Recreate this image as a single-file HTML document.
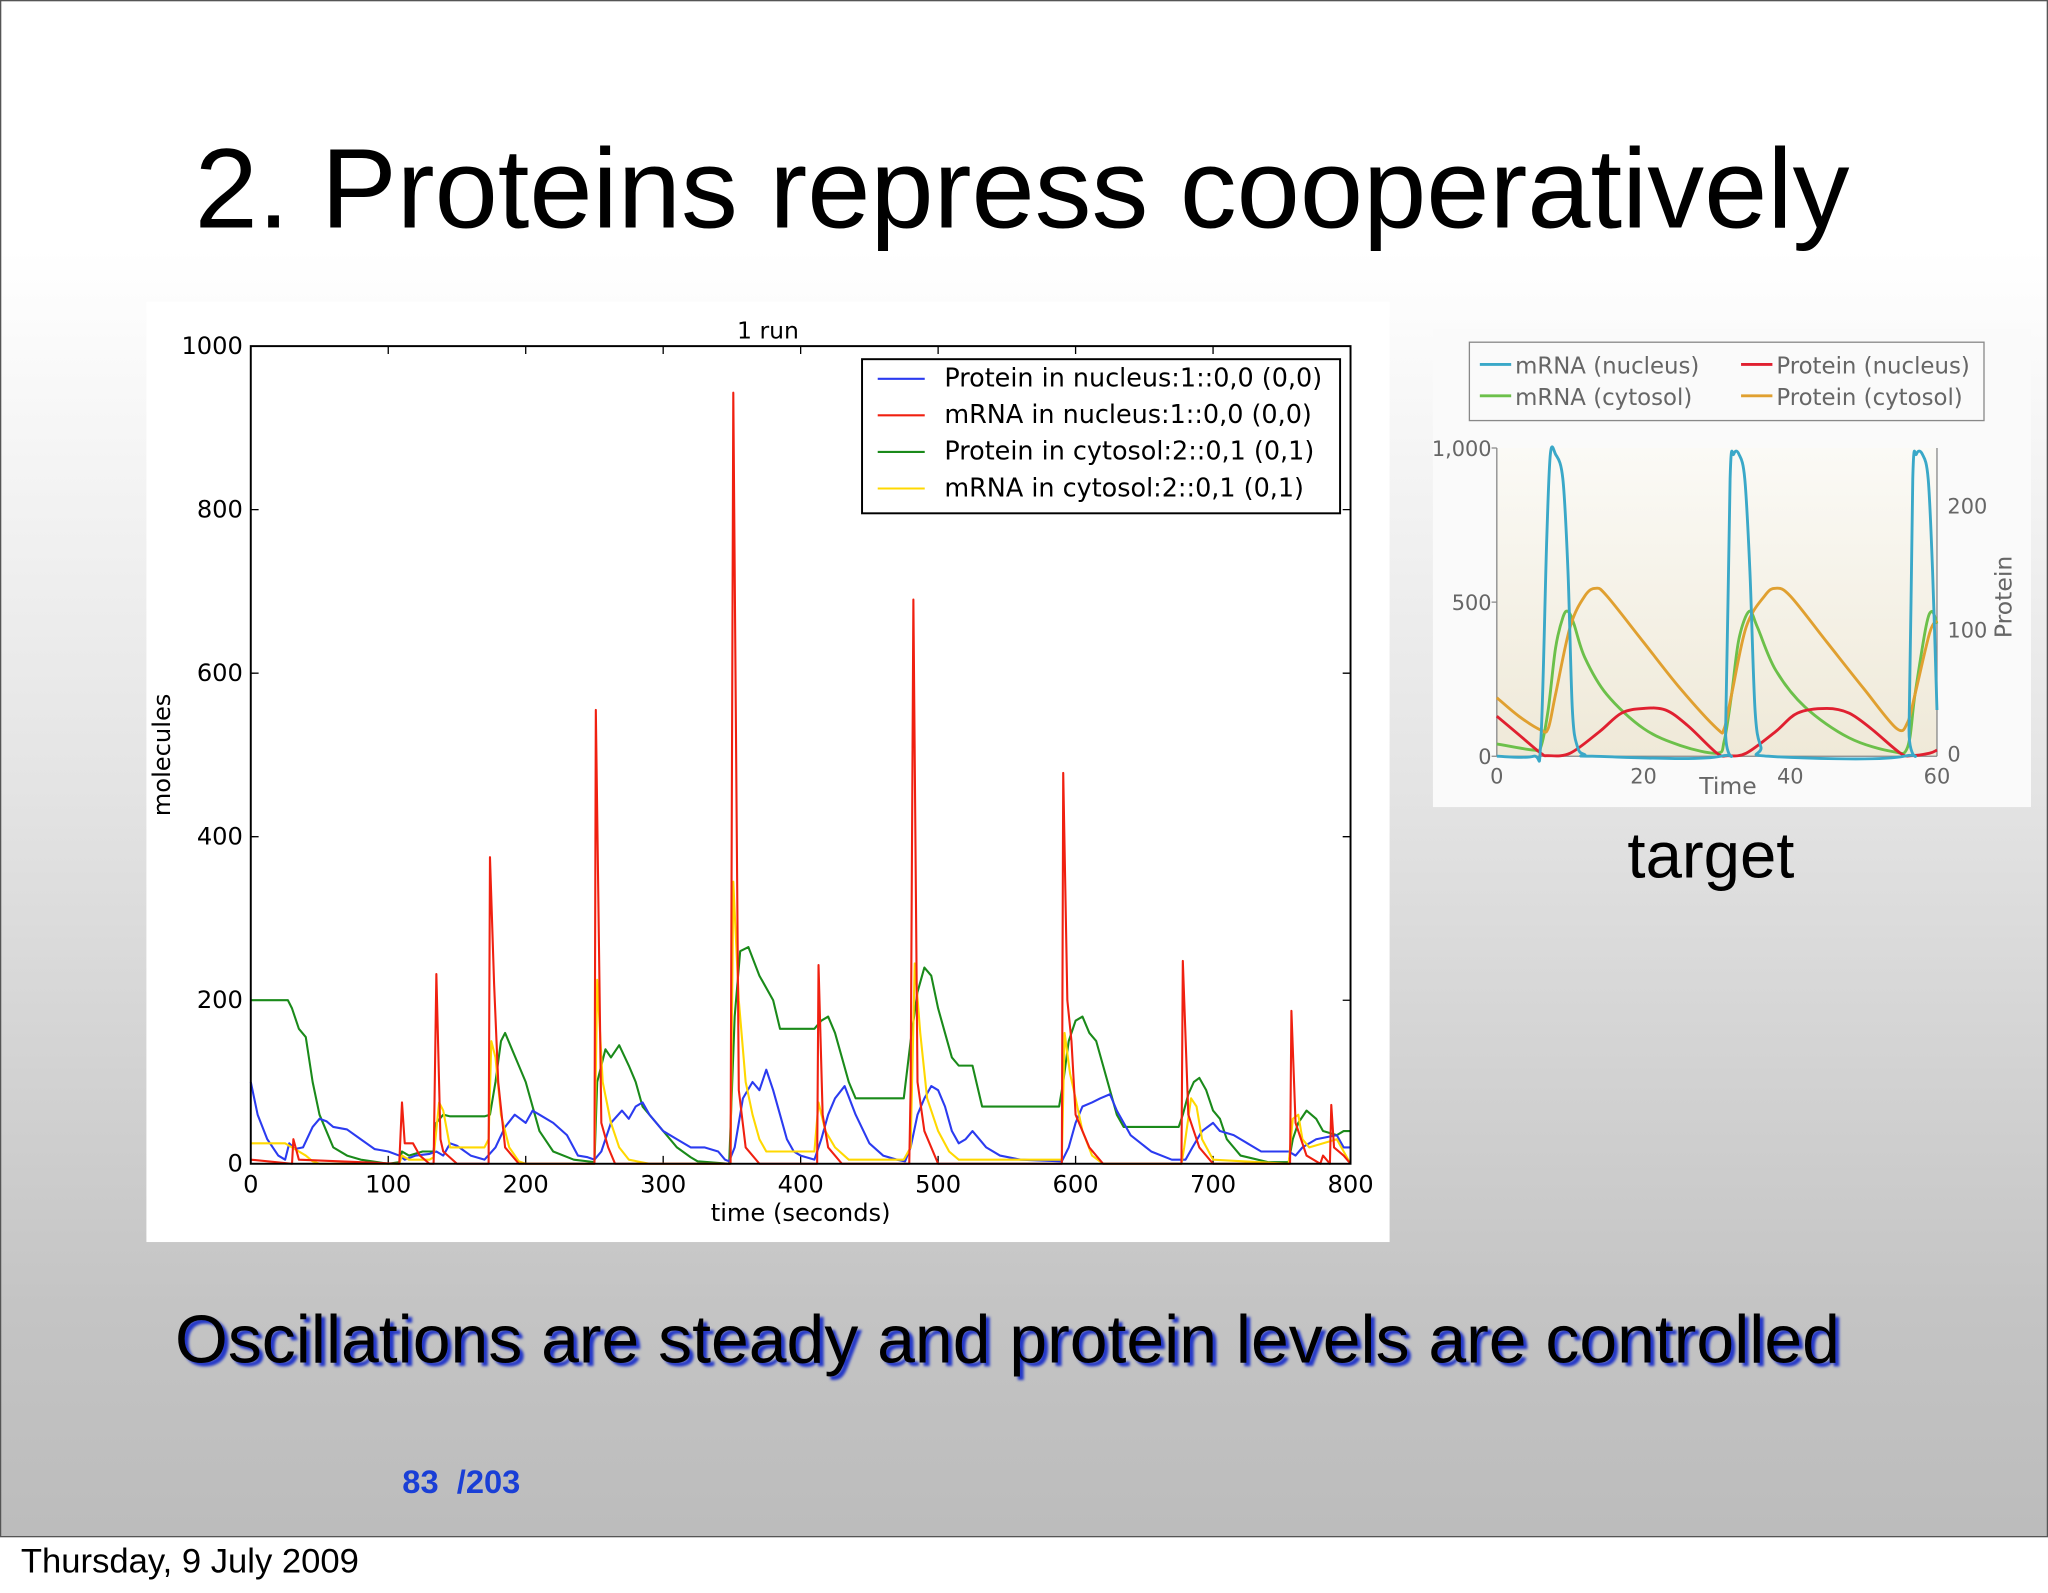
<!DOCTYPE html>
<html><head><meta charset="utf-8"><style>
html,body{margin:0;padding:0;width:2048px;height:1593px;overflow:hidden;background:#fff}
#s{position:absolute;left:0;top:0;width:1568px;height:1220px;transform:scale(1.306122);transform-origin:0 0;font-family:"Liberation Sans",sans-serif}
#slide{position:absolute;left:0;top:0;width:1566px;height:1175px;border:1px solid #555;background:linear-gradient(#fff 0,#fff 190px,#e4e4e4 600px,#c4c4c4 1000px,#bcbcbc 1175px)}
.t{position:absolute;white-space:nowrap}
</style></head><body>
<div id="s">
<div id="slide"></div>
<div class="t" style="left:149px;top:95px;font-size:87px;color:#000">2. Proteins repress cooperatively</div>
<svg id="main" style="position:absolute;left:112px;top:231px" width="952" height="720"></svg>
<svg id="tgt" style="position:absolute;left:1097px;top:252px" width="458" height="366"></svg>
<div class="t" style="left:1246px;top:626px;font-size:50px">target</div>
<div class="t" style="left:134px;top:996px;font-size:52px;color:#000;text-shadow:3px 3px 2px #2438c8">Oscillations are steady and protein levels are controlled</div>
<div class="t" style="left:308px;top:1121px;font-size:25px;font-weight:bold;color:#1a3fd6">83 &nbsp;/203</div>
<div class="t" style="left:16px;top:1180px;font-size:26.5px;color:#000">Thursday, 9 July 2009</div>
</div>
<script>
const NS="http://www.w3.org/2000/svg";
function mk(p,tag,a){const e=document.createElementNS(NS,tag);for(const k in a)e.setAttribute(k,a[k]);p.appendChild(e);return e;}
// ---- main chart data ----
const xTicks=[0,100,200,300,400,500,600,700,800];
const yTicks=[0,200,400,600,800,1000];
const seriesNames=["Protein in nucleus:1::0,0 (0,0)","mRNA in nucleus:1::0,0 (0,0)","Protein in cytosol:2::0,1 (0,1)","mRNA in cytosol:2::0,1 (0,1)"];
const seriesColors=["#2b3bf0","#f02010","#1a8a1a","#ffd800"];
const proteinNucleus=[[0,100],[5,60],[12,30],[20,10],[25,5],[28,25],[32,18],[38,20],[45,45],[50,55],[55,52],[60,45],[70,42],[80,30],[90,18],[100,15],[108,10],[112,5],[120,10],[130,12],[135,15],[140,10],[145,25],[150,22],[160,10],[170,5],[178,20],[185,45],[192,60],[200,50],[205,65],[210,60],[220,50],[230,35],[238,10],[245,8],[250,5],[255,15],[262,50],[270,65],[275,55],[280,70],[285,75],[290,60],[300,40],[310,30],[320,20],[330,20],[340,15],[345,5],[348,3],[352,20],[358,80],[365,100],[370,90],[375,115],[380,90],[385,60],[390,30],[395,15],[400,10],[410,5],[415,30],[420,60],[425,80],[432,95],[440,60],[450,25],[460,10],[470,5],[476,3],[480,20],[485,60],[490,80],[495,95],[500,90],[505,70],[510,40],[515,25],[520,30],[525,40],[530,30],[535,20],[545,10],[560,5],[590,3],[595,20],[600,50],[605,70],[612,75],[618,80],[625,85],[630,65],[640,35],[655,15],[670,5],[680,5],[685,20],[692,40],[700,50],[705,40],[715,35],[725,25],[735,15],[745,15],[755,15],[760,10],[765,20],[775,30],[790,35],[795,20],[800,20]];
const mrnaNucleus=[[0,5],[30,0],[31,30],[35,5],[108,0],[110,75],[112,25],[118,25],[123,10],[130,0],[133,0],[135,232],[138,30],[140,15],[150,0],[173,0],[174,375],[177,220],[180,100],[185,20],[195,0],[250,0],[251,555],[255,50],[260,20],[265,0],[349,0],[351,943],[355,90],[360,20],[370,0],[412,0],[413,243],[416,60],[420,20],[430,0],[479,0],[480,90],[482,690],[485,100],[490,40],[500,0],[590,0],[591,478],[594,200],[597,150],[600,60],[610,20],[620,0],[677,0],[678,248],[682,60],[690,20],[700,0],[756,0],[757,187],[760,50],[768,10],[778,0],[780,10],[785,0],[786,72],[788,20],[795,10],[800,0]];
const proteinCytosol=[[0,200],[27,200],[30,190],[35,165],[40,155],[45,100],[50,60],[55,40],[60,20],[70,10],[80,5],[100,0],[108,2],[110,15],[115,10],[125,15],[133,15],[135,50],[140,60],[145,58],[170,58],[174,60],[178,100],[182,150],[185,160],[190,140],[195,120],[200,100],[210,40],[220,15],[235,5],[250,2],[252,100],[258,140],[262,130],[268,145],[275,120],[280,100],[285,70],[295,50],[310,20],[320,8],[325,3],[348,0],[352,180],[356,260],[362,265],[370,230],[380,200],[385,165],[410,165],[415,175],[420,180],[425,160],[430,130],[435,100],[440,80],[475,80],[480,150],[485,210],[490,240],[495,230],[500,190],[505,160],[510,130],[515,120],[525,120],[532,70],[588,70],[591,100],[595,150],[600,175],[605,180],[610,160],[615,150],[620,120],[625,90],[630,60],[635,45],[675,45],[678,60],[682,85],[686,100],[690,105],[695,90],[700,65],[705,55],[710,30],[720,10],[740,2],[755,2],[758,30],[762,50],[768,65],[775,55],[780,40],[790,35],[795,40],[800,40]];
const mrnaCytosol=[[0,25],[25,25],[30,20],[40,10],[45,3],[50,0],[108,0],[110,10],[115,5],[130,5],[133,8],[137,75],[140,65],[145,20],[150,20],[170,20],[173,30],[175,150],[178,130],[182,60],[188,20],[195,3],[200,0],[250,0],[252,225],[256,100],[262,50],[268,20],[275,5],[290,0],[349,0],[351,345],[355,200],[360,100],[365,60],[370,30],[375,15],[410,15],[413,75],[418,40],[425,20],[435,5],[475,5],[480,20],[483,245],[487,160],[492,80],[500,40],[508,15],[515,5],[590,5],[592,160],[596,110],[600,80],[605,40],[612,10],[620,0],[677,0],[679,20],[684,80],[688,70],[692,30],[700,5],[755,0],[758,55],[762,60],[765,30],[770,20],[790,30],[795,15],[800,0]];
// ---- target chart data ----
const tXTicks=[0,20,40,60];
const tYTicks=[0,500,1000];
const tRTicks=[0,100,200];
const tNames=["mRNA (nucleus)","mRNA (cytosol)","Protein (nucleus)","Protein (cytosol)"];
const tColors=["#3aa8c8","#6cc04a","#e02030","#e0a030"];
const tMrnaNuc=[[0,0],[5,0],[6,50],[6.8,700],[7.3,980],[8,980],[9,900],[9.7,600],[10.3,150],[11,30],[12,5],[13,0],[30.5,0],[31.2,100],[31.8,900],[32.3,980],[33,980],[33.8,900],[34.5,600],[35.2,150],[36,30],[37,0],[55.5,0],[56.2,100],[56.7,900],[57.2,980],[58,980],[58.8,900],[59.4,600],[60,150]];
const tMrnaCyt=[[0,40],[5,20],[6,30],[7,150],[8,350],[9,450],[9.7,470],[10.5,430],[12,320],[15,200],[20,90],[25,35],[30,10],[31,50],[32,200],[33,380],[34.4,470],[35.5,420],[38,280],[42,160],[48,60],[54,15],[56,30],[57,200],[58.5,420],[59.3,470],[60,430]];
const tProtNuc=[[0,130],[3,70],[6,10],[7,2],[10,10],[14,80],[17,140],[20,155],[23,150],[26,100],[30,10],[31.5,2],[34,10],[38,80],[41,140],[45,155],[48,140],[51,90],[55,10],[56.5,2],[59,10],[60,20]];
const tProtCyt=[[0,190],[3,130],[6,85],[7,90],[8,200],[10,420],[12,520],[13.5,545],[15,520],[20,370],[25,220],[30,90],[31,90],[32,200],[34,420],[36.5,520],[38,545],[40,520],[45,370],[50,220],[54.5,90],[56,110],[57,200],[59,400],[60,440]];

// main chart
(function(){
const svg=document.getElementById('main');
mk(svg,'rect',{x:0,y:0,width:952,height:720,fill:'#fff'});
const L=80,R=922,T=34,B=660;
const sx=v=>L+(R-L)*v/800, sy=v=>B-(B-T)*v/1000;
const font='font-family:"DejaVu Sans",sans-serif';
let t=mk(svg,'text',{x:476,y:28,'text-anchor':'middle','font-size':18,style:font});t.textContent='1 run';

xTicks.forEach(v=>{mk(svg,'line',{x1:sx(v),x2:sx(v),y1:B,y2:B-6,stroke:'#000'});mk(svg,'line',{x1:sx(v),x2:sx(v),y1:T,y2:T+6,stroke:'#000'});
 const e=mk(svg,'text',{x:sx(v),y:B+22,'text-anchor':'middle','font-size':18.5,style:font});e.textContent=v;
 });
yTicks.forEach(v=>{mk(svg,'line',{x1:L,x2:L+6,y1:sy(v),y2:sy(v),stroke:'#000'});mk(svg,'line',{x1:R,x2:R-6,y1:sy(v),y2:sy(v),stroke:'#000'});
 const e=mk(svg,'text',{x:L-6,y:sy(v)+6,'text-anchor':'end','font-size':18.5,style:font});e.textContent=v;
 });
const all=[proteinNucleus,mrnaNucleus,proteinCytosol,mrnaCytosol];
const order=[2,0,3,1];
order.forEach(i=>{const p=mk(svg,'polyline',{points:all[i].map(d=>sx(d[0])+','+sy(d[1])).join(' '),fill:'none',stroke:seriesColors[i],'stroke-width':1.6,'stroke-linejoin':'round'});
 });
mk(svg,'rect',{x:L,y:T,width:R-L,height:B-T,fill:'none',stroke:'#000','stroke-width':1.5});
t=mk(svg,'text',{x:501,y:704,'text-anchor':'middle','font-size':18.5,style:font});t.textContent='time (seconds)';

t=mk(svg,'text',{x:18,y:347,'text-anchor':'middle','font-size':18.5,style:font,transform:'rotate(-90 18 347)'});t.textContent='molecules';

const lg=mk(svg,'g',{});
mk(lg,'rect',{x:548,y:44,width:366,height:118,fill:'#fff',stroke:'#000','stroke-width':1.5});
seriesNames.forEach((n,i)=>{const y=59+i*28;mk(lg,'line',{x1:560,x2:596,y1:y,y2:y,stroke:seriesColors[i],'stroke-width':1.6});
 const e=mk(lg,'text',{x:611,y:y+6,'font-size':19.5,style:font});e.textContent=n;
 });
})();

// target chart
(function(){
const svg=document.getElementById('tgt');
mk(svg,'rect',{x:0,y:0,width:458,height:366,fill:'#fafafa'});
const L=49,R=386,B=327,T=91;
const defs=mk(svg,'defs',{});const g=mk(defs,'linearGradient',{id:'bg',x1:0,y1:0,x2:0,y2:1});
mk(g,'stop',{offset:0,'stop-color':'#fbfaf6'});mk(g,'stop',{offset:1,'stop-color':'#efe9d8'});
mk(svg,'rect',{x:L,y:T,width:R-L,height:B-T,fill:'url(#bg)'});
const sx=v=>L+(R-L)*v/60, sy=v=>B-(B-T)*v/1000, sr=v=>325-v*0.95;
const font='font-family:"DejaVu Sans",sans-serif;fill:#666';
mk(svg,'line',{x1:L,x2:L,y1:T,y2:B,stroke:'#888'});mk(svg,'line',{x1:L,x2:R,y1:B,y2:B,stroke:'#888'});
mk(svg,'line',{x1:R,x2:R,y1:T,y2:B,stroke:'#888'});
tYTicks.forEach(v=>{mk(svg,'line',{x1:L-4,x2:L,y1:sy(v),y2:sy(v),stroke:'#888'});
 const e=mk(svg,'text',{x:L-4,y:sy(v)+6,'text-anchor':'end','font-size':16,style:font});e.textContent=v===1000?'1,000':v;
 });
tRTicks.forEach(v=>{const e=mk(svg,'text',{x:R+8,y:sr(v)+6,'font-size':16,style:font});e.textContent=v;
 });
tXTicks.forEach(v=>{const e=mk(svg,'text',{x:sx(v),y:B+21,'text-anchor':'middle','font-size':16,style:font});e.textContent=v;
 });
let t=mk(svg,'text',{x:226,y:356,'text-anchor':'middle','font-size':18,style:font});t.textContent='Time';

t=mk(svg,'text',{x:443,y:205,'text-anchor':'middle','font-size':18,style:font,transform:'rotate(-90 443 205)'});t.textContent='Protein';

function smooth(pts){let d='M'+pts[0][0]+','+pts[0][1];for(let i=0;i<pts.length-1;i++){const p0=pts[i-1]||pts[i],p1=pts[i],p2=pts[i+1],p3=pts[i+2]||p2;
 d+=' C'+(p1[0]+(p2[0]-p0[0])/6)+','+(p1[1]+(p2[1]-p0[1])/6)+' '+(p2[0]-(p3[0]-p1[0])/6)+','+(p2[1]-(p3[1]-p1[1])/6)+' '+p2[0]+','+p2[1];}return d;}
[tMrnaCyt,tProtCyt,tProtNuc,tMrnaNuc].forEach((s,k)=>{const ci=[1,3,2,0][k];
 const p=mk(svg,'path',{d:smooth(s.map(d=>[sx(d[0]),sy(d[1])])),fill:'none',stroke:tColors[ci],'stroke-width':2.2});
 });
const lg=mk(svg,'g',{});
mk(lg,'rect',{x:28,y:10,width:394,height:60,fill:'#fafafa',stroke:'#888'});
tNames.forEach((n,i)=>{const x=i<2?36:236,y=i%2?51:27;mk(lg,'line',{x1:x,x2:x+24,y1:y,y2:y,stroke:tColors[i],'stroke-width':2.2});
 const e=mk(lg,'text',{x:x+27,y:y+7,'font-size':17.5,style:font});e.textContent=n;
 });
})();
</script>
</body></html>
